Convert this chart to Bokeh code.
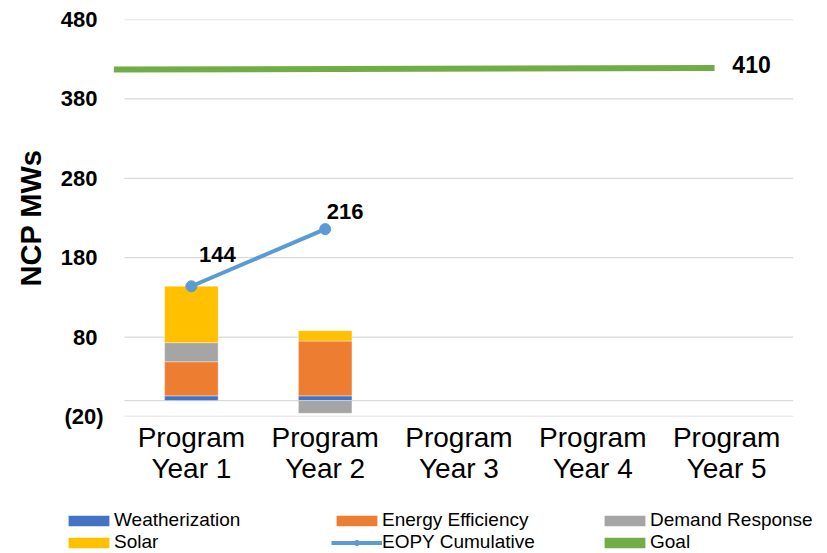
from bokeh.plotting import figure
from bokeh.models import Range1d, FixedTicker, Legend, LegendItem, LinearAxis
from bokeh.layouts import column
from bokeh.core.properties import value
from bokeh.embed import file_html
from bokeh.resources import INLINE

# ---- data ----
categories = ["Program\nYear 1", "Program\nYear 2", "Program\nYear 3", "Program\nYear 4", "Program\nYear 5"]
weatherization = [6, 6]
energy_efficiency = [43, 69]
demand_response = [24, -16]
solar = [71, 13]
eopy_cumulative = [144, 216]
goal_x = [0.42, 4.91]
goal_y = [417, 419]
goal_label = "410"
y_ticks = [-20, 80, 180, 280, 380, 480]
y_tick_labels = ["(20)", "80\u00a0", "180\u00a0", "280\u00a0", "380\u00a0", "480\u00a0"]

FONT = "Liberation Sans"
COLORS = {"Weatherization": "#4472C4", "Energy Efficiency": "#ED7D31",
          "Demand Response": "#A5A5A5", "Solar": "#FFC000",
          "EOPY Cumulative": "#5B9BD5", "Goal": "#70AD47"}
cat_pos = list(range(1, len(categories) + 1))
xs = cat_pos[:len(weatherization)]

p = figure(width=820, height=500, output_backend="svg", toolbar_location=None,
           x_range=Range1d(0.418, cat_pos[-1] + 0.5), y_range=Range1d(y_ticks[0], y_ticks[-1]),
           x_axis_location=None,
           min_border_left=113, min_border_right=27, min_border_top=19, min_border_bottom=84)
p.outline_line_color = None
p.xgrid.visible = False
p.ygrid.visible = False

# gridlines + zero axis line (span category area only)
grid_vals = y_ticks + [0]
p.segment(x0=[cat_pos[0] - 0.5] * len(grid_vals), x1=[cat_pos[-1] + 0.5] * len(grid_vals),
          y0=grid_vals, y1=grid_vals, line_color="#D9D9D9", line_width=1.3)

# stacked bars (positive and negative stacks separately, like Excel)
series = [("Weatherization", weatherization),
          ("Energy Efficiency", energy_efficiency),
          ("Demand Response", demand_response),
          ("Solar", solar)]
pos = [0] * len(xs)
neg = [0] * len(xs)
for name, vals in series:
    bottoms, tops = [], []
    for i, v in enumerate(vals):
        if v >= 0:
            b = pos[i]; t = b + v; pos[i] = t
        else:
            b = neg[i]; t = b + v; neg[i] = t
        bottoms.append(b); tops.append(t)
    p.vbar(x=xs, bottom=bottoms, top=tops, width=0.4, fill_color=COLORS[name],
           line_color="white", line_width=0.6, line_alpha=0.6)

# goal line
p.line(goal_x, goal_y, line_color=COLORS["Goal"], line_width=6)
p.text(x=[goal_x[-1]], y=[goal_y[-1]], text=[goal_label], x_offset=37, y_offset=-3,
       text_align="center", text_baseline="middle", text_font=value(FONT),
       text_font_style="bold", text_font_size="23px", text_color="black")

# EOPY cumulative line
p.line(xs, eopy_cumulative, line_color=COLORS["EOPY Cumulative"], line_width=4)
p.scatter(xs, eopy_cumulative, size=11, fill_color=COLORS["EOPY Cumulative"],
          line_color=COLORS["EOPY Cumulative"])
p.text(x=[xs[0]], y=[eopy_cumulative[0]], text=[str(eopy_cumulative[0])], x_offset=26, y_offset=-32,
       text_align="center", text_baseline="middle", text_font=value(FONT),
       text_font_style="bold", text_font_size="22px", text_color="black")
p.text(x=[xs[1]], y=[eopy_cumulative[1]], text=[str(eopy_cumulative[1])], x_offset=20, y_offset=-18,
       text_align="center", text_baseline="middle", text_font=value(FONT),
       text_font_style="bold", text_font_size="22px", text_color="black")

# y axis
p.yaxis.ticker = FixedTicker(ticks=y_ticks)
p.yaxis.major_label_overrides = {t: l for t, l in zip(y_ticks, y_tick_labels)}
p.yaxis.major_label_text_font = FONT
p.yaxis.major_label_text_font_style = "bold"
p.yaxis.major_label_text_font_size = "22px"
p.yaxis.major_label_text_color = "black"
p.yaxis.major_label_standoff = 10
p.yaxis.axis_line_color = None
p.yaxis.major_tick_line_color = None
p.yaxis.major_tick_out = 0
p.yaxis.major_tick_in = 0
p.yaxis.minor_tick_line_color = None
p.yaxis.axis_label = "NCP MWs"
p.yaxis.axis_label_text_font = FONT
p.yaxis.axis_label_text_font_style = "bold"
p.yaxis.axis_label_text_font_size = "29px"
p.yaxis.axis_label_text_color = "black"
p.yaxis.axis_label_standoff = 11

# x axis: two stacked axes, one per label line
line1 = {c: l.split("\n")[0] for c, l in zip(cat_pos, categories)}
line2 = {c: l.split("\n")[1] for c, l in zip(cat_pos, categories)}
for overrides, standoff in ((line1, 5), (line2, -3)):
    ax = LinearAxis(ticker=FixedTicker(ticks=cat_pos), major_label_overrides=overrides,
                    major_label_text_font=FONT, major_label_text_font_size="28px",
                    major_label_text_color="black", major_label_standoff=standoff,
                    major_tick_out=0, major_tick_in=0,
                    axis_line_color=None, major_tick_line_color=None, minor_tick_line_color=None)
    p.add_layout(ax, "below")

# legend in its own strip below the chart (proxy renderers kept out of view)
lg = figure(width=820, height=53, output_backend="svg", toolbar_location=None,
            x_range=Range1d(-20, -10), y_range=Range1d(-2000, -1000), min_border=0)
lg.frame_align = False
lg.axis.visible = False
lg.grid.visible = False
lg.outline_line_color = None
rend = {}
for name, vals in series:
    rend[name] = [lg.vbar(x=xs, top=vals, width=0.4, fill_color=COLORS[name], line_color=None)]
rend["EOPY Cumulative"] = [lg.line(x=xs, y=eopy_cumulative, line_color=COLORS["EOPY Cumulative"], line_width=4),
                           lg.scatter(x=xs, y=eopy_cumulative, size=11, fill_color=COLORS["EOPY Cumulative"],
                                      line_color=COLORS["EOPY Cumulative"])]
rend["Goal"] = [lg.vbar(x=goal_x, top=goal_y, width=0.4, fill_color=COLORS["Goal"], line_color=None)]
legend_order = ["Weatherization", "Energy Efficiency", "Demand Response",
                "Solar", "EOPY Cumulative", "Goal"]
legend = Legend(items=[LegendItem(label=n, renderers=rend[n]) for n in legend_order],
                location=(63, 0), orientation="horizontal", ncols=3,
                glyph_width=51, glyph_height=13, label_standoff=0, label_width=217,
                spacing=0, padding=0, margin=0, border_line_color=None,
                background_fill_alpha=0, label_text_font=FONT, label_text_font_size="19px",
                label_text_color="black")
lg.add_layout(legend)

layout = column(p, lg, spacing=0)
open("out.html", "w").write(file_html(layout, INLINE))
